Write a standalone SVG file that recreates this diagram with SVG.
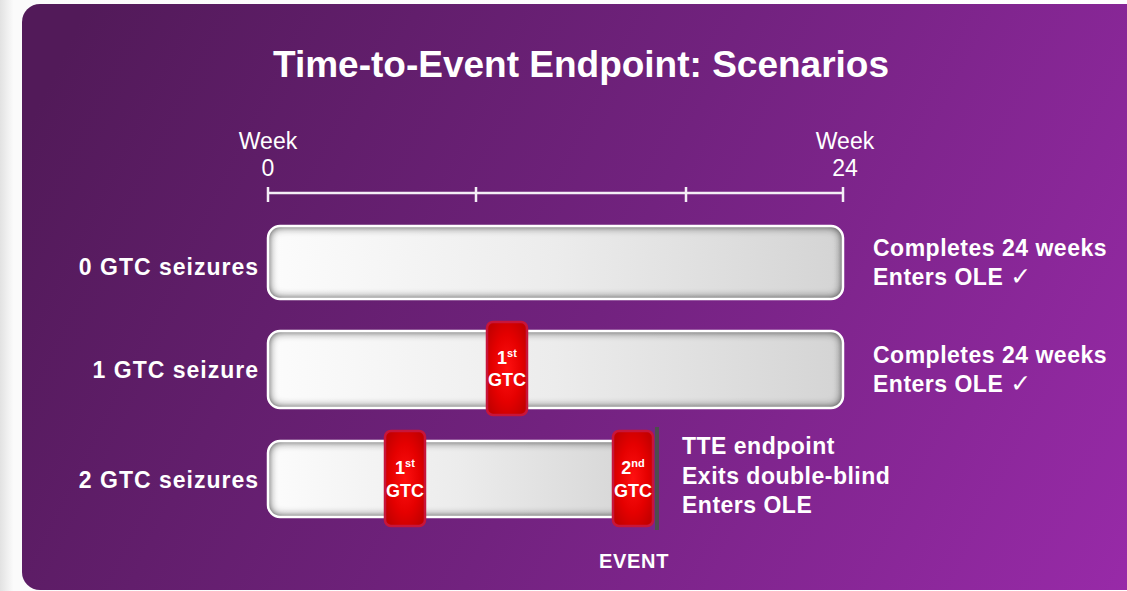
<svg xmlns="http://www.w3.org/2000/svg" width="1127" height="591" viewBox="0 0 1127 591">
  <defs>
    <linearGradient id="pageBg" x1="0" y1="0" x2="1" y2="0">
      <stop offset="0" stop-color="#e2e2e2"/>
      <stop offset="0.012" stop-color="#fbfbfb"/>
      <stop offset="1" stop-color="#ffffff"/>
    </linearGradient>
    <linearGradient id="panelBg" gradientUnits="userSpaceOnUse" x1="60" y1="60" x2="1127" y2="591">
      <stop offset="0" stop-color="#521a59"/>
      <stop offset="0.5" stop-color="#72227f"/>
      <stop offset="1" stop-color="#982aa8"/>
    </linearGradient>
    <linearGradient id="barFill" x1="0" y1="0" x2="1" y2="0">
      <stop offset="0" stop-color="#fcfcfc"/>
      <stop offset="0.5" stop-color="#ececec"/>
      <stop offset="1" stop-color="#d4d4d4"/>
    </linearGradient>
    <radialGradient id="redFill" cx="0.5" cy="0.5" r="0.6">
      <stop offset="0" stop-color="#ff1010"/>
      <stop offset="0.6" stop-color="#e50000"/>
      <stop offset="1" stop-color="#c40000"/>
    </radialGradient>
    <filter id="inset" x="-5%" y="-15%" width="110%" height="130%">
      <feFlood flood-color="#2a2a2a" flood-opacity="1" result="f"/>
      <feComposite in="f" in2="SourceAlpha" operator="out" result="o"/>
      <feGaussianBlur in="o" stdDeviation="5" result="b"/>
      <feComposite in="b" in2="SourceAlpha" operator="in" result="s"/>
      <feMerge><feMergeNode in="SourceGraphic"/><feMergeNode in="s"/><feMergeNode in="s"/></feMerge>
    </filter>
  </defs>
  <style>
    text { font-family: "Liberation Sans", Arial, "DejaVu Sans", sans-serif; fill: #ffffff; }
    .title { font-size: 37px; font-weight: bold; }
    .week { font-size: 23px; }
    .lbl { font-size: 23px; font-weight: bold; letter-spacing: 1px; }
    .note { font-size: 23px; font-weight: bold; letter-spacing: 0.5px; }
    .chk { font-family: "DejaVu Sans", sans-serif; font-weight: normal; font-size: 25px; }
    .bar { fill: url(#barFill); filter: url(#inset); }
    .barEdge { fill: none; stroke: #ffffff; stroke-width: 2.5; }
    .gtc { fill: url(#redFill); stroke: #c8153a; stroke-width: 2.5; }
    .mk { font-size: 18px; font-weight: bold; text-anchor: middle; }
    .num { font-size: 18px; }
    .sup { font-size: 11px; }
    .axis { stroke: #f4eef6; stroke-width: 2.5; fill: none; }
  </style>

  <rect x="0" y="0" width="1127" height="591" fill="url(#pageBg)"/>
  <rect id="panel" x="22" y="4" width="1130" height="586" rx="18" ry="18" fill="url(#panelBg)"/>

  <text class="title" x="581" y="77" text-anchor="middle">Time-to-Event Endpoint: Scenarios</text>

  <g id="axis">
    <text class="week" x="268" y="149" text-anchor="middle">Week</text>
    <text class="week" x="268" y="176" text-anchor="middle">0</text>
    <text class="week" x="845" y="149" text-anchor="middle">Week</text>
    <text class="week" x="845" y="176" text-anchor="middle">24</text>
    <path class="axis" d="M268,193 H843 M268,187 V202 M476,187 V202 M686,187 V202 M843,187 V202"/>
  </g>

  <g id="scenario0">
    <text class="lbl" x="259" y="275" text-anchor="end">0 GTC seizures</text>
    <rect class="bar" x="268" y="226" width="575" height="73" rx="12"/>
    <rect class="barEdge" x="268" y="226" width="575" height="73" rx="12"/>
    <text class="note" x="873" y="256">Completes 24 weeks</text>
    <text class="note" x="873" y="285">Enters OLE <tspan class="chk">✓</tspan></text>
  </g>

  <g id="scenario1">
    <text class="lbl" x="259" y="378" text-anchor="end">1 GTC seizure</text>
    <rect class="bar" x="268" y="331" width="575" height="77" rx="12"/>
    <rect class="barEdge" x="268" y="331" width="575" height="77" rx="12"/>
    <rect class="gtc" x="487" y="322" width="40" height="93" rx="6"/>
    <text class="mk" x="507" y="364"><tspan class="num">1</tspan><tspan class="sup" dy="-7">st</tspan></text>
    <text class="mk" x="507" y="386">GTC</text>
    <text class="note" x="873" y="363">Completes 24 weeks</text>
    <text class="note" x="873" y="392">Enters OLE <tspan class="chk">✓</tspan></text>
  </g>

  <g id="scenario2">
    <text class="lbl" x="259" y="488" text-anchor="end">2 GTC seizures</text>
    <rect class="bar" x="268" y="441" width="382" height="76" rx="12"/>
    <rect class="barEdge" x="268" y="441" width="382" height="76" rx="12"/>
    <rect class="gtc" x="385" y="431" width="40" height="95" rx="6"/>
    <text class="mk" x="405" y="474"><tspan class="num">1</tspan><tspan class="sup" dy="-7">st</tspan></text>
    <text class="mk" x="405" y="497">GTC</text>
    <rect class="gtc" x="613" y="431" width="40" height="95" rx="6"/>
    <text class="mk" x="633" y="474"><tspan class="num">2</tspan><tspan class="sup" dy="-7">nd</tspan></text>
    <text class="mk" x="633" y="497">GTC</text>
    <text class="note" x="682" y="454">TTE endpoint</text>
    <text class="note" x="682" y="484">Exits double-blind</text>
    <text class="note" x="682" y="513">Enters OLE</text>
  </g>

  <g id="event">
    <rect x="655" y="427" width="4" height="103" fill="#4d4d4d"/>
    <text x="634" y="568" text-anchor="middle" font-size="20px" font-weight="bold" letter-spacing="0.7px">EVENT</text>
  </g>
</svg>
